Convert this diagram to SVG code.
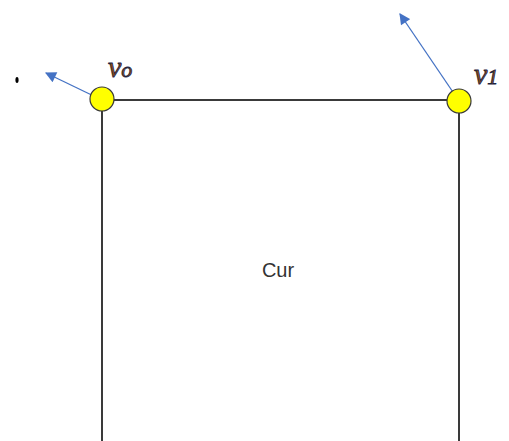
<svg xmlns="http://www.w3.org/2000/svg" width="509" height="441" viewBox="0 0 509 441">
<defs>
<style>
.edge{stroke:#3a3a3a;stroke-width:2;fill:none}
.vec{stroke:#4472C4;stroke-width:1.3;fill:none}
.vert{fill:#FFFF00;stroke:#3a3a3a;stroke-width:1.2}
.lbl{font-family:"Liberation Serif","DejaVu Serif",serif;font-style:italic;font-size:30px;fill:#8a4a12;stroke:#1c2340;stroke-width:0.8}
.cur{font-family:"Liberation Sans",Arial,sans-serif;font-size:20px;fill:#333}
</style>
<marker id="ah" viewBox="0 0 10 10" refX="9" refY="5" markerWidth="12" markerHeight="11" markerUnits="userSpaceOnUse" orient="auto">
<path d="M0,0 L10,5 L0,10 Z" fill="#4472C4"/>
</marker>
</defs>
<rect width="509" height="441" fill="#fff"/>
<g id="cur-face">
<path class="edge" d="M102,441 V100 H459 V441"/>
<text class="cur" x="278" y="277" text-anchor="middle">Cur</text>
</g>
<g id="connectors">
<line class="vec" x1="102" y1="100" x2="46" y2="73" marker-end="url(#ah)"/>
<line class="vec" x1="459" y1="101" x2="400" y2="14" marker-end="url(#ah)"/>
</g>
<g id="v0">
<circle class="vert" cx="102" cy="99" r="12"/>
<text class="lbl" x="108" y="77">v<tspan font-size="22">o</tspan></text>
</g>
<g id="v1">
<circle class="vert" cx="459" cy="101" r="12"/>
<text class="lbl" x="474" y="84">v<tspan font-size="22">1</tspan></text>
</g>
<g id="mark">
<ellipse cx="17" cy="80" rx="1.6" ry="3" fill="#000"/>
</g>
</svg>
